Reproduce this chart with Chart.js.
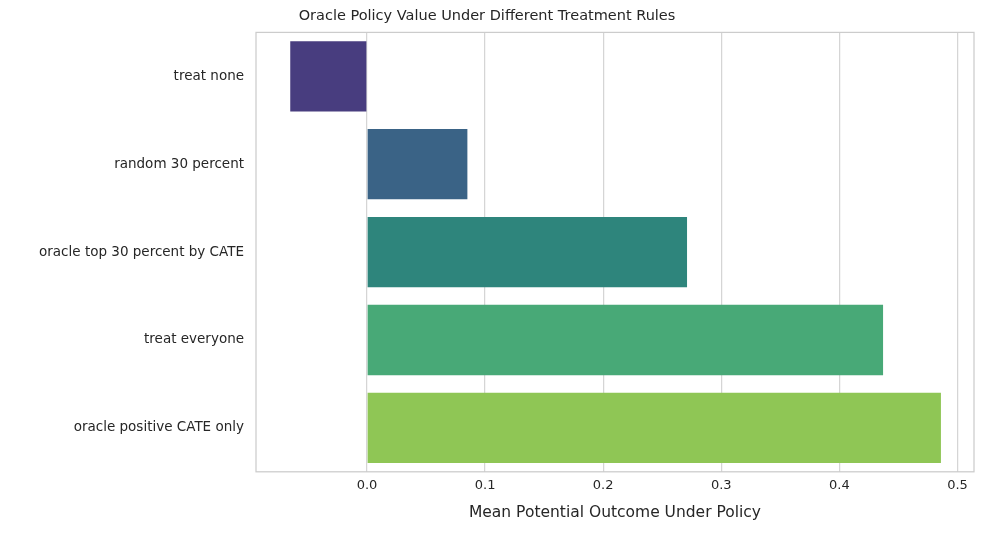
<!DOCTYPE html>
<html>
<head>
<meta charset="utf-8">
<script src="https://cdn.jsdelivr.net/npm/chart.js@4/dist/chart.umd.min.js"></script>
<style>
  body { margin: 0; background: #fff; }
</style>
</head>
<body>
<canvas id="chart" width="984" height="534"></canvas>
<script>
const categories = ['treat none', 'random 30 percent', 'oracle top 30 percent by CATE', 'treat everyone', 'oracle positive CATE only'];
const policyValues = [-0.065, 0.085, 0.271, 0.437, 0.486];
const barColors = ['#483d7f', '#3a6386', '#2e857c', '#48a977', '#8fc655'];
const xTicks = [0.0, 0.1, 0.2, 0.3, 0.4, 0.5];

const frameBox = {
    id: 'frameBox',
    afterDraw(chart) {
        const { ctx, chartArea: a } = chart;
        ctx.save();
        ctx.strokeStyle = '#cccccc';
        ctx.lineWidth = 1.25;
        ctx.strokeRect(a.left, a.top, a.right - a.left, a.bottom - a.top);
        ctx.restore();
    }
};

Chart.defaults.font.family = 'DejaVu Sans';
Chart.defaults.color = '#262626';

new Chart(document.getElementById('chart').getContext('2d'), {
    type: 'bar',
    data: {
        labels: categories,
        datasets: [{
            data: policyValues,
            backgroundColor: barColors,
            borderWidth: 0,
            categoryPercentage: 0.8,
            barPercentage: 1.0
        }]
    },
    options: {
        indexAxis: 'y',
        responsive: false,
        animation: false,
        layout: { padding: { top: 4, right: 10, left: 0, bottom: 8 } },
        plugins: {
            legend: { display: false },
            tooltip: { enabled: false },
            title: {
                display: true,
                text: 'Oracle Policy Value Under Different Treatment Rules',
                font: { size: 14.5, weight: 'normal' },
                color: '#262626',
                padding: { top: 4, bottom: 7 }
            }
        },
        scales: {
            x: {
                min: -0.094,
                max: 0.514,
                afterBuildTicks: s => { s.ticks = xTicks.map(v => ({ value: v })); },
                ticks: {
                    font: { size: 13 },
                    padding: 6,
                    callback: v => v.toFixed(1)
                },
                grid: { color: '#d5d5d5', lineWidth: 1.25, drawTicks: false },
                border: { display: false },
                title: {
                    display: true,
                    text: 'Mean Potential Outcome Under Policy',
                    font: { size: 15.5 },
                    padding: { top: 4 }
                }
            },
            y: {
                afterFit: s => { s.width = 256; },
                ticks: { font: { size: 13.5 }, padding: 12 },
                grid: { display: false, drawTicks: false },
                border: { display: false }
            }
        }
    },
    plugins: [frameBox]
});
</script>
</body>
</html>
